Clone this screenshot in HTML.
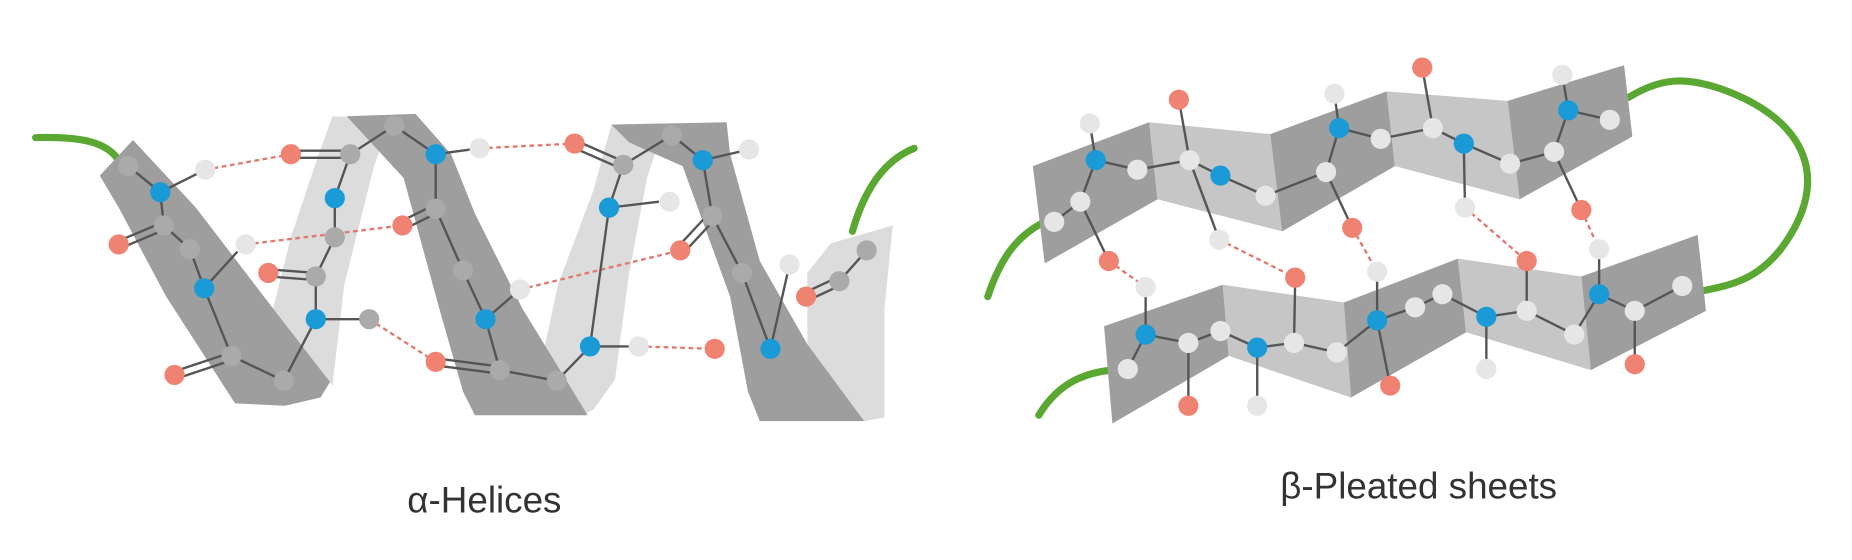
<!DOCTYPE html>
<html><head><meta charset="utf-8"><style>
html,body{margin:0;padding:0;background:#fff;width:1852px;height:560px;overflow:hidden}
svg{display:block}
</style></head><body>
<svg width="1852" height="560" viewBox="0 0 1560 472" preserveAspectRatio="none" xmlns="http://www.w3.org/2000/svg">
<g fill="none" stroke="#5aa832" stroke-width="6" stroke-linecap="round">
<path d="M30,116 C70,115 90,120 100,135"/>
<path d="M718,195 C728,160 745,135 770,125"/>
<path d="M832,250 C842,220 855,200 878,188"/>
<path d="M875,350 C890,325 910,315 935,312"/>
<path d="M1372,82 C1400,65 1420,65 1450,75 C1520,100 1545,150 1500,210 C1480,235 1460,240 1435,245"/>
</g>
<!-- alpha ribbons -->
<g stroke="none">
<polygon fill="#dcdcdc" points="280,98 330,100 315,140 290,240 280,325 230,260 245,200 265,140"/>
<polygon fill="#dcdcdc" points="515,105 560,104 545,150 530,230 518,320 500,345 490,350 455,310 470,240 500,160"/>
<polygon fill="#dcdcdc" points="680,230 700,205 752,190 745,260 745,352 728,355 680,290"/>
<polygon fill="#9e9e9e" points="84,148 112,118 165,175 230,260 278,322 270,335 240,342 198,340 140,250 100,175"/>
<polygon fill="#9e9e9e" points="292,98 350,96 380,130 400,180 440,260 495,350 400,350 390,330 370,260 340,150"/>
<polygon fill="#9e9e9e" points="515,105 612,103 615,130 640,220 680,290 728,355 640,355 630,330 615,250 575,140 530,120"/>
</g>
<!-- beta sheets -->
<g stroke="none">
<polygon fill="#9e9e9e" points="870,140 968,103 975,168 880,222"/>
<polygon fill="#c6c6c6" points="968,103 1070,113 1080,195 975,168"/>
<polygon fill="#9e9e9e" points="1070,113 1168,77 1175,140 1080,195"/>
<polygon fill="#c6c6c6" points="1168,77 1270,85 1280,168 1175,140"/>
<polygon fill="#9e9e9e" points="1270,85 1368,55 1375,115 1280,168"/>
<polygon fill="#9e9e9e" points="930,275 1030,240 1035,300 937,357"/>
<polygon fill="#c6c6c6" points="1030,240 1132,255 1138,335 1035,300"/>
<polygon fill="#9e9e9e" points="1132,255 1228,218 1235,280 1138,335"/>
<polygon fill="#c6c6c6" points="1228,218 1332,233 1340,312 1235,280"/>
<polygon fill="#9e9e9e" points="1332,233 1430,198 1437,262 1340,312"/>
</g>
<!-- H bonds -->
<g stroke="#e07a72" stroke-width="2" stroke-dasharray="4,3" fill="none">
<line x1="173" y1="143" x2="245" y2="130"/><line x1="207" y1="206" x2="339" y2="190"/>
<line x1="311" y1="269" x2="367" y2="305"/><line x1="404" y1="125" x2="484" y2="121"/>
<line x1="438" y1="244" x2="573" y2="211"/><line x1="538" y1="292" x2="602" y2="294"/>
<line x1="934" y1="220" x2="965" y2="242"/><line x1="1027" y1="202" x2="1091" y2="234"/>
<line x1="1139" y1="192" x2="1160" y2="229"/><line x1="1234" y1="175" x2="1286" y2="220"/>
<line x1="1332" y1="177" x2="1347" y2="210"/>
</g>
<!-- bonds -->
<g stroke="#555" stroke-width="2" fill="none">
<polyline points="173,143 135,162 108,140"/>
<polyline points="135,162 138,190 160,210 172,243 195,300 239,321 266,269 266,233 282,200 282,167 295,130 332,106 367,130 367,176 390,228 409,269 421,312 469,321 497,292 513,175 525,139 566,114 592,135 600,182 625,230 649,294 665,223"/>
<line x1="172" y1="243" x2="200" y2="212"/><line x1="266" y1="269" x2="311" y2="269"/>
<line x1="367" y1="130" x2="404" y2="125"/><line x1="409" y1="269" x2="438" y2="244"/>
<line x1="497" y1="292" x2="538" y2="292"/><line x1="513" y1="175" x2="555" y2="170"/>
<line x1="592" y1="135" x2="631" y2="126"/><line x1="707" y1="237" x2="730" y2="211"/>
<g><line x1="138" y1="187" x2="100" y2="203"/><line x1="140" y1="193" x2="102" y2="209"/>
<line x1="195" y1="297" x2="147" y2="313"/><line x1="197" y1="303" x2="149" y2="319"/>
<line x1="266" y1="230" x2="226" y2="227"/><line x1="266" y1="236" x2="226" y2="233"/>
<line x1="295" y1="127" x2="245" y2="127"/><line x1="295" y1="133" x2="245" y2="133"/>
<line x1="365" y1="173" x2="337" y2="187"/><line x1="369" y1="179" x2="341" y2="193"/>
<line x1="421" y1="309" x2="367" y2="302"/><line x1="421" y1="315" x2="367" y2="308"/>
<line x1="525" y1="136" x2="484" y2="118"/><line x1="523" y1="142" x2="482" y2="124"/>
<line x1="598" y1="179" x2="571" y2="208"/><line x1="602" y1="185" x2="575" y2="214"/>
<line x1="705" y1="234" x2="677" y2="247"/><line x1="709" y1="240" x2="681" y2="253"/></g>
<polyline points="888,187 910,170 923,135 958,143 1002,135 1028,148 1066,165 1117,145 1128,108 1163,117 1207,108 1233,121 1272,138 1309,128 1321,93 1356,101"/>
<line x1="923" y1="135" x2="918" y2="104"/><line x1="1002" y1="135" x2="993" y2="84"/>
<line x1="1002" y1="135" x2="1027" y2="202"/><line x1="1117" y1="145" x2="1139" y2="192"/>
<line x1="1128" y1="108" x2="1124" y2="79"/><line x1="1207" y1="108" x2="1198" y2="57"/>
<line x1="1233" y1="121" x2="1234" y2="175"/><line x1="1309" y1="128" x2="1332" y2="177"/>
<line x1="1321" y1="93" x2="1316" y2="63"/><line x1="910" y1="170" x2="934" y2="220"/>
<polyline points="950,311 965,282 1001,289 1028,279 1059,293 1090,289 1126,297 1160,270 1192,259 1215,248 1252,267 1286,262 1326,282 1347,248 1377,262 1417,241"/>
<line x1="965" y1="282" x2="965" y2="242"/><line x1="1001" y1="289" x2="1001" y2="342"/>
<line x1="1059" y1="293" x2="1059" y2="342"/><line x1="1090" y1="289" x2="1091" y2="234"/>
<line x1="1160" y1="270" x2="1160" y2="229"/><line x1="1160" y1="270" x2="1171" y2="325"/>
<line x1="1252" y1="267" x2="1252" y2="311"/><line x1="1286" y1="262" x2="1286" y2="220"/>
<line x1="1347" y1="248" x2="1347" y2="210"/><line x1="1377" y1="262" x2="1377" y2="307"/>
</g>
<!-- atoms -->
<g stroke="none">
<g fill="#aaaaaa">
<circle cx="108" cy="140" r="8.5"/><circle cx="138" cy="190" r="8.5"/><circle cx="160" cy="210" r="8.5"/>
<circle cx="195" cy="300" r="8.5"/><circle cx="239" cy="321" r="8.5"/><circle cx="311" cy="269" r="8.5"/>
<circle cx="266" cy="233" r="8.5"/><circle cx="282" cy="200" r="8.5"/><circle cx="295" cy="130" r="8.5"/>
<circle cx="332" cy="106" r="8.5"/><circle cx="367" cy="176" r="8.5"/><circle cx="390" cy="228" r="8.5"/>
<circle cx="421" cy="312" r="8.5"/><circle cx="469" cy="321" r="8.5"/><circle cx="525" cy="139" r="8.5"/>
<circle cx="566" cy="114" r="8.5"/><circle cx="600" cy="182" r="8.5"/><circle cx="625" cy="230" r="8.5"/>
<circle cx="707" cy="237" r="8.5"/><circle cx="730" cy="211" r="8.5"/>
</g>
<g fill="#e6e6e6">
<circle cx="173" cy="143" r="8.5"/><circle cx="207" cy="206" r="8.5"/><circle cx="404" cy="125" r="8.5"/>
<circle cx="438" cy="244" r="8.5"/><circle cx="538" cy="292" r="8.5"/><circle cx="564" cy="170" r="8.5"/>
<circle cx="631" cy="126" r="8.5"/><circle cx="665" cy="223" r="8.5"/>
<circle cx="888" cy="187" r="8.5"/><circle cx="910" cy="170" r="8.5"/><circle cx="958" cy="143" r="8.5"/>
<circle cx="1002" cy="135" r="8.5"/><circle cx="1066" cy="165" r="8.5"/><circle cx="1117" cy="145" r="8.5"/>
<circle cx="1163" cy="117" r="8.5"/><circle cx="1207" cy="108" r="8.5"/><circle cx="1272" cy="138" r="8.5"/>
<circle cx="1309" cy="128" r="8.5"/><circle cx="1356" cy="101" r="8.5"/><circle cx="918" cy="104" r="8.5"/>
<circle cx="1027" cy="202" r="8.5"/><circle cx="1124" cy="79" r="8.5"/><circle cx="1234" cy="175" r="8.5"/>
<circle cx="1316" cy="63" r="8.5"/>
<circle cx="950" cy="311" r="8.5"/><circle cx="1001" cy="289" r="8.5"/><circle cx="1028" cy="279" r="8.5"/>
<circle cx="1090" cy="289" r="8.5"/><circle cx="1126" cy="297" r="8.5"/><circle cx="1192" cy="259" r="8.5"/>
<circle cx="1215" cy="248" r="8.5"/><circle cx="1286" cy="262" r="8.5"/><circle cx="1326" cy="282" r="8.5"/>
<circle cx="1377" cy="262" r="8.5"/><circle cx="1417" cy="241" r="8.5"/><circle cx="965" cy="242" r="8.5"/>
<circle cx="1059" cy="342" r="8.5"/><circle cx="1160" cy="229" r="8.5"/><circle cx="1252" cy="311" r="8.5"/>
<circle cx="1347" cy="210" r="8.5"/>
</g>
<g fill="#1a9ad6">
<circle cx="135" cy="162" r="8.5"/><circle cx="172" cy="243" r="8.5"/><circle cx="266" cy="269" r="8.5"/>
<circle cx="282" cy="167" r="8.5"/><circle cx="367" cy="130" r="8.5"/><circle cx="409" cy="269" r="8.5"/>
<circle cx="497" cy="292" r="8.5"/><circle cx="513" cy="175" r="8.5"/><circle cx="592" cy="135" r="8.5"/>
<circle cx="649" cy="294" r="8.5"/>
<circle cx="923" cy="135" r="8.5"/><circle cx="1028" cy="148" r="8.5"/><circle cx="1128" cy="108" r="8.5"/>
<circle cx="1233" cy="121" r="8.5"/><circle cx="1321" cy="93" r="8.5"/>
<circle cx="965" cy="282" r="8.5"/><circle cx="1059" cy="293" r="8.5"/><circle cx="1160" cy="270" r="8.5"/>
<circle cx="1252" cy="267" r="8.5"/><circle cx="1347" cy="248" r="8.5"/>
</g>
<g fill="#f08272">
<circle cx="100" cy="206" r="8.5"/><circle cx="147" cy="316" r="8.5"/><circle cx="226" cy="230" r="8.5"/>
<circle cx="245" cy="130" r="8.5"/><circle cx="339" cy="190" r="8.5"/><circle cx="367" cy="305" r="8.5"/>
<circle cx="484" cy="121" r="8.5"/><circle cx="573" cy="211" r="8.5"/><circle cx="602" cy="294" r="8.5"/>
<circle cx="679" cy="250" r="8.5"/>
<circle cx="993" cy="84" r="8.5"/><circle cx="1139" cy="192" r="8.5"/><circle cx="1198" cy="57" r="8.5"/>
<circle cx="1332" cy="177" r="8.5"/><circle cx="934" cy="220" r="8.5"/>
<circle cx="1001" cy="342" r="8.5"/><circle cx="1091" cy="234" r="8.5"/><circle cx="1171" cy="325" r="8.5"/>
<circle cx="1286" cy="220" r="8.5"/><circle cx="1377" cy="307" r="8.5"/>
</g>
</g>
<g font-family="Liberation Sans, sans-serif" font-size="31" fill="#333" text-anchor="middle">
<text x="408" y="432">α-Helices</text>
<text x="1195" y="420">β-Pleated sheets</text>
</g>
</svg>
</body></html>
